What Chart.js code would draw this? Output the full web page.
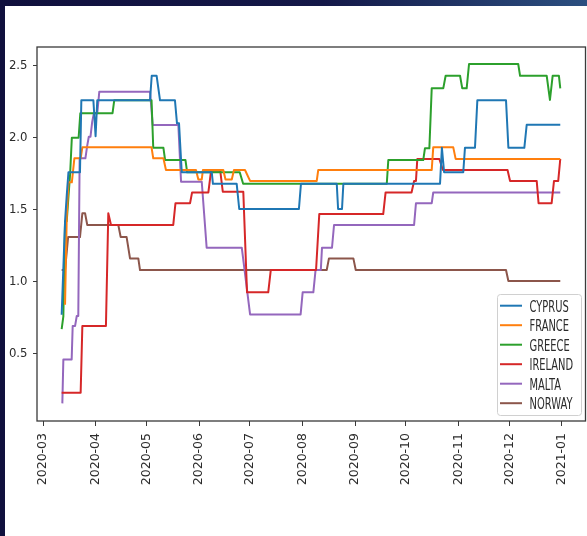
<!DOCTYPE html>
<html>
<head>
<meta charset="utf-8">
<script src="https://cdn.jsdelivr.net/npm/chart.js@4.4.0/dist/chart.umd.min.js"></script>
<style>
  html, body { margin: 0; padding: 0; width: 587px; height: 536px; overflow: hidden; background: #111140; }
  #backdrop { position: absolute; left: 0; top: 0; width: 587px; height: 536px;
    background: linear-gradient(90deg, #10103d 0%, #141848 55%, #2b4f80 100%); }
  #panel { position: absolute; left: 5px; top: 6px; width: 582px; height: 530px; background: #ffffff; }
  #chart { position: absolute; left: 0; top: 0; }
</style>
</head>
<body>
<div id="backdrop"></div>
<div id="panel"></div>
<canvas id="chart" width="587" height="536"></canvas>
<script>
// x values are days counted from 2020-03-01
const monthLabels = ['2020-03', '2020-04', '2020-05', '2020-06', '2020-07', '2020-08',
                     '2020-09', '2020-10', '2020-11', '2020-12', '2021-01'];
const yTickValues = [0.5, 1.0, 1.5, 2.0, 2.5];
const countries = ['CYPRUS', 'FRANCE', 'GREECE', 'IRELAND', 'MALTA', 'NORWAY'];
const lineColors = ['#1f77b4', '#ff7f0e', '#2ca02c', '#d62728', '#9467bd', '#8c564b'];

// [day, value] points where each series changes level
const cyprus = [[11, 0.77], [13, 1.42], [14, 1.6], [15, 1.76], [21.8, 1.76], [22.6, 2.26], [29.7, 2.26],
  [31, 2.01], [32, 2.26], [63.1, 2.26], [64.1, 2.43], [67, 2.43], [69, 2.26], [77.8, 2.26], [79, 2.1],
  [80.2, 2.1], [81.8, 1.76], [99.5, 1.76], [100.2, 1.68], [114.2, 1.68], [115.7, 1.505], [150.9, 1.505],
  [152.1, 1.68], [173.2, 1.68], [174, 1.505], [176.3, 1.505], [177.1, 1.68], [234.1, 1.68], [235.2, 1.93],
  [236.5, 1.76], [247.8, 1.76], [248.8, 1.93], [254.7, 1.93], [256.1, 2.26], [273, 2.26], [274.4, 1.93],
  [283.8, 1.93], [285.2, 2.09], [305, 2.09]];

const france = [[13, 0.84], [14, 1.45], [15, 1.69], [17, 1.69], [18.5, 1.857], [22.2, 1.857], [23.2, 1.933],
  [64, 1.933], [65, 1.857], [71, 1.857], [72.5, 1.776], [90.2, 1.776], [91.6, 1.71], [93.6, 1.71],
  [94.3, 1.776], [106.3, 1.776], [107.6, 1.71], [111.3, 1.71], [112.6, 1.776], [119.1, 1.776], [122.1, 1.7],
  [161.4, 1.7], [162.3, 1.776], [229.2, 1.776], [230.1, 1.933], [241.9, 1.933], [243.3, 1.853], [305, 1.853]];

const greece = [[11, 0.67], [12, 0.76], [13, 1.42], [14, 1.42], [15, 1.59], [16, 1.75], [17, 2.0], [21, 2.0],
  [22, 2.17], [41, 2.17], [42, 2.26], [64, 2.26], [65, 1.93], [71, 1.93], [72, 1.845], [84, 1.845], [85, 1.76],
  [116, 1.76], [118, 1.68], [202.7, 1.68], [203.6, 1.845], [224.2, 1.845], [225.2, 1.926], [227.8, 1.926],
  [229.2, 2.343], [236, 2.343], [237.4, 2.43], [245.9, 2.43], [247.2, 2.343], [249.8, 2.343], [251.2, 2.512],
  [280.2, 2.512], [281.3, 2.43], [297, 2.43], [298.9, 2.262], [300.5, 2.43], [304.2, 2.43], [305, 2.343]];

const ireland = [[11, 0.229], [22.2, 0.229], [23.2, 0.692], [37.1, 0.692], [38.5, 1.475], [40.1, 1.394],
  [76.8, 1.394], [78.1, 1.545], [86.7, 1.545], [87.9, 1.62], [97.5, 1.62], [99.1, 1.771], [104.5, 1.771],
  [106, 1.625], [118.1, 1.625], [120.3, 0.926], [132.8, 0.926], [134.3, 1.081], [161, 1.081], [162.9, 1.47],
  [200.6, 1.47], [202, 1.62], [217.3, 1.62], [218.8, 1.7], [219.9, 1.7], [220.7, 1.852], [233.7, 1.852],
  [235.8, 1.776], [273.9, 1.776], [275.4, 1.7], [291.1, 1.7], [292.2, 1.545], [299.9, 1.545], [301.3, 1.7],
  [303.8, 1.7], [305, 1.852]];

const malta = [[11.4, 0.155], [12, 0.46], [16.9, 0.46], [17.5, 0.692], [18.9, 0.692], [19.9, 0.762],
  [20.8, 0.762], [21.6, 1.857], [25, 1.857], [26, 1.94], [27, 2.007], [28, 2.007], [29, 2.11], [30, 2.17],
  [32, 2.17], [33.2, 2.32], [63.1, 2.32], [64.7, 2.088], [79.8, 2.088], [81.4, 1.694], [93.6, 1.694],
  [96.5, 1.236], [117.2, 1.236], [122.1, 0.773], [151.9, 0.773], [153.1, 0.926], [159.4, 0.926],
  [160.7, 1.081], [163.8, 1.081], [164.5, 1.236], [170.4, 1.236], [171.6, 1.394], [218.8, 1.394],
  [219.9, 1.545], [229.2, 1.545], [230.1, 1.62], [305, 1.62]];

const norway = [[11, 1.081], [13, 1.081], [14.8, 1.31], [21.8, 1.31], [23.2, 1.475], [24.8, 1.475],
  [26.1, 1.394], [44.4, 1.394], [45.8, 1.31], [49.3, 1.31], [51.3, 1.162], [56.2, 1.162], [57.2, 1.081],
  [167.3, 1.081], [168.6, 1.162], [183, 1.162], [184.4, 1.081], [273, 1.081], [274.4, 1.005], [305, 1.005]];

const seriesData = [cyprus, france, greece, ireland, malta, norway];

const originUTC = Date.UTC(2020, 2, 1);
const monthDays = monthLabels.map(lbl => {
  const [yy, mm] = lbl.split('-').map(Number);
  return (Date.UTC(yy, mm - 1, 1) - originUTC) / 86400000;
});

const textColor = '#2b2b2b';

// axes frame on all four sides, drawn over the lines
const framePlugin = {
  id: 'axesFrame',
  afterDatasetsDraw(chart) {
    const { ctx, chartArea: a } = chart;
    ctx.save();
    ctx.strokeStyle = '#3a3a3a';
    ctx.lineWidth = 1.3;
    ctx.strokeRect(a.left, a.top, a.right - a.left, a.bottom - a.top);
    ctx.restore();
  }
};

// legend box in the lower right corner of the plot
const legendPlugin = {
  id: 'cornerLegend',
  afterDraw(chart) {
    const { ctx, chartArea: a } = chart;
    const ds = chart.data.datasets;
    const boxRight = a.right - 4.5, boxBottom = a.bottom - 6;
    const boxW = 84, boxH = 121;
    const x0 = boxRight - boxW, y0 = boxBottom - boxH;
    ctx.save();
    ctx.beginPath();
    ctx.roundRect(x0 + 0.5, y0 + 0.5, boxW, boxH, 3);
    ctx.fillStyle = 'rgba(255,255,255,0.85)';
    ctx.fill();
    ctx.strokeStyle = '#d0d0d0';
    ctx.lineWidth = 1;
    ctx.stroke();
    ds.forEach((d, i) => {
      const cy = y0 + 11.7 + i * 19.5;
      ctx.beginPath();
      ctx.moveTo(x0 + 3, cy);
      ctx.lineTo(x0 + 25, cy);
      ctx.strokeStyle = d.borderColor;
      ctx.lineWidth = 2;
      ctx.stroke();
      ctx.save();
      ctx.translate(x0 + 32.5, cy + 6);
      ctx.scale(0.66, 1);
      ctx.font = '15px "DejaVu Sans"';
      ctx.fillStyle = textColor;
      ctx.textBaseline = 'alphabetic';
      ctx.fillText(d.label, 0, 0);
      ctx.restore();
    });
    ctx.restore();
  }
};

new Chart(document.getElementById('chart'), {
  type: 'line',
  data: {
    datasets: countries.map((name, i) => ({
      label: name,
      data: seriesData[i].map(([x, y]) => ({ x, y })),
      borderColor: lineColors[i],
      backgroundColor: lineColors[i],
      borderWidth: 2,
      borderJoinStyle: 'round',
      pointRadius: 0,
      tension: 0,
      fill: false
    }))
  },
  options: {
    responsive: false,
    animation: false,
    devicePixelRatio: 1,
    layout: { padding: { left: 0, top: 47, right: 1.5, bottom: 0 } },
    plugins: { legend: { display: false }, tooltip: { enabled: false } },
    scales: {
      x: {
        type: 'linear',
        min: -3.54,
        max: 319.87,
        afterBuildTicks: s => { s.ticks = monthDays.map(v => ({ value: v })); },
        afterFit: s => { s.height = 115; },
        border: { display: false },
        grid: { drawOnChartArea: false, drawTicks: true, tickLength: 5, color: '#3a3a3a', lineWidth: 1 },
        ticks: {
          autoSkip: false,
          minRotation: 90,
          maxRotation: 90,
          padding: 7,
          color: textColor,
          font: { family: 'DejaVu Sans', size: 12.5 },
          callback: (v, idx) => monthLabels[idx]
        }
      },
      y: {
        min: 0.0326,
        max: 2.63,
        afterBuildTicks: s => { s.ticks = yTickValues.map(v => ({ value: v })); },
        afterFit: s => { s.width = 37; },
        border: { display: false },
        grid: { drawOnChartArea: false, drawTicks: true, tickLength: 4, color: '#3a3a3a', lineWidth: 1 },
        ticks: {
          padding: 5.5,
          color: textColor,
          font: { family: "'Liberation Sans Narrow', 'DejaVu Sans Condensed', sans-serif", size: 13 },
          callback: v => Number(v).toFixed(1)
        }
      }
    }
  },
  plugins: [framePlugin, legendPlugin]
});
</script>
</body>
</html>
